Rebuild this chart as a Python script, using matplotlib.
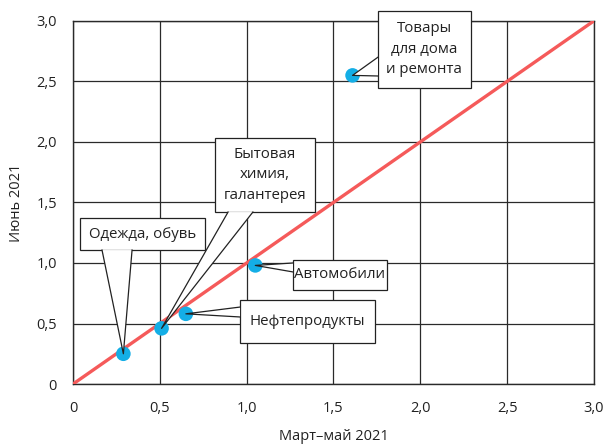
import matplotlib
matplotlib.use("Agg")
import matplotlib.pyplot as plt
from matplotlib.patches import Rectangle, Polygon

plt.rcParams['font.family'] = ['Open Sans', 'DejaVu Sans']

# Data
categories = ["Одежда, обувь", "Бытовая\nхимия,\nгалантерея", "Нефтепродукты", "Автомобили",
              "Товары\nдля дома\nи ремонта"]
x_vals = [0.29, 0.51, 0.65, 1.05, 1.61]   # Март–май 2021
y_vals = [0.25, 0.46, 0.58, 0.98, 2.55]   # Июнь 2021
tick_vals = [0, 0.5, 1.0, 1.5, 2.0, 2.5, 3.0]
tick_labels = ["0", "0,5", "1,0", "1,5", "2,0", "2,5", "3,0"]

# Layout of callout boxes (x0, x1, y0, y1) and tail base points
boxes = [
    (0.040, 0.760, 1.107, 1.372),
    (0.818, 1.393, 1.421, 2.033),
    (0.962, 1.739, 0.339, 0.694),
    (1.267, 1.808, 0.777, 1.025),
    (1.756, 2.292, 2.446, 3.083),
]
tails = [
    ((0.167, 1.107), (0.340, 1.107)),
    ((0.893, 1.421), (1.036, 1.421)),
    ((0.962, 0.636), (0.962, 0.554)),
    ((1.267, 1.000), (1.267, 0.926)),
    ((1.756, 2.700), (1.756, 2.545)),
]

fig = plt.figure(figsize=(6.06, 4.45), dpi=100)
ax = fig.add_axes([0.1205, 0.137, 0.8595, 0.816])
ax.set_xlim(0, 3)
ax.set_ylim(0, 3)
ax.set_xticks(tick_vals)
ax.set_xticklabels(tick_labels)
ax.set_yticks(tick_vals)
ax.set_yticklabels(tick_labels)
ax.tick_params(length=0, labelsize=10.5, colors='#222222')
ax.tick_params(axis='x', pad=12.5)
ax.tick_params(axis='y', pad=11.5)
ax.grid(True, color='#2a2a2a', linewidth=0.9)
ax.set_axisbelow(True)
for s in ax.spines.values():
    s.set_color('#2a2a2a')
    s.set_linewidth(1.0)

ax.plot([0, 3], [0, 3], color='#f55a5a', linewidth=2.4, zorder=3, solid_capstyle='butt')
ax.scatter(x_vals, y_vals, s=110, color='#14aee6', zorder=4, edgecolors='none')

for (x, y), lab, (x0, x1, y0, y1), (b1, b2) in zip(zip(x_vals, y_vals), categories, boxes, tails):
    ax.add_patch(Rectangle((x0, y0), x1 - x0, y1 - y0, facecolor='white', edgecolor='#222222',
                           linewidth=0.9, zorder=5, clip_on=False))
    ax.add_patch(Polygon([b1, (x, y), b2], closed=True, facecolor='white', edgecolor='none',
                         zorder=6, clip_on=False))
    ax.plot([b1[0], x, b2[0]], [b1[1], y, b2[1]], color='#222222', linewidth=0.9, zorder=7,
            clip_on=False)
    ax.text((x0 + x1) / 2, (y0 + y1) / 2, lab, ha='center', va='center', fontsize=10.8,
            color='#222222', zorder=8, linespacing=1.5)

ax.set_xlabel("Март–май 2021", fontsize=10.5, color='#222222', labelpad=9)
ax.set_ylabel("Июнь 2021", fontsize=10.5, color='#222222', labelpad=9)

fig.savefig("out.png", dpi=100)
